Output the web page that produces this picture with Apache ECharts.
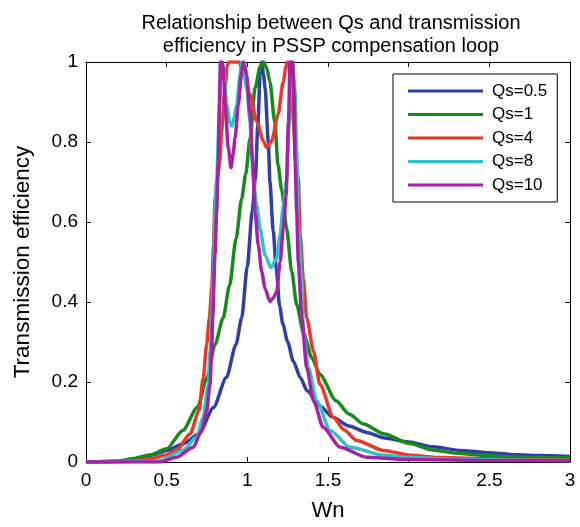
<!DOCTYPE html>
<html><head><meta charset="utf-8">
<script src="https://cdn.jsdelivr.net/npm/echarts@6/dist/echarts.min.js"></script>
<style>html,body{margin:0;padding:0;background:#fff}#c{width:580px;height:527px}</style>
</head><body><div id="c"></div>
<script>
var titleText = 'Relationship between Qs and transmission\nefficiency in PSSP compensation loop';
var seriesNames = ['Qs=0.5','Qs=1','Qs=4','Qs=8','Qs=10'];
var xTicks = [0,0.5,1,1.5,2,2.5,3];
var yTicks = [0,0.2,0.4,0.6,0.8,1];

var qs05 = [[0,0],[0.2,0.002],[0.3,0.008],[0.4,0.016],[0.5,0.029],[0.6,0.045],[0.7,0.07],[0.79,0.136],[0.87,0.211],[0.93,0.294],[0.965,0.36],[1.0,0.49],[1.03,0.625],[1.05,0.71],[1.065,0.84],[1.08,0.98],[1.09,1.0],[1.1,0.97],[1.11,0.935],[1.13,0.8],[1.14,0.7],[1.16,0.58],[1.18,0.48],[1.2,0.39],[1.22,0.345],[1.25,0.3],[1.285,0.252],[1.33,0.21],[1.37,0.178],[1.45,0.14],[1.53,0.112],[1.63,0.09],[1.74,0.074],[1.85,0.06],[2.0,0.05],[2.15,0.038],[2.32,0.029],[2.5,0.023],[2.63,0.019],[2.8,0.016],[3.0,0.014]];
var qs1 = [[0,0],[0.2,0.002],[0.29,0.008],[0.4,0.018],[0.5,0.033],[0.6,0.079],[0.69,0.136],[0.75,0.211],[0.8,0.294],[0.85,0.36],[0.89,0.442],[0.93,0.558],[0.965,0.658],[0.99,0.72],[1.017,0.81],[1.048,0.935],[1.08,0.99],[1.1,1.0],[1.12,0.985],[1.14,0.95],[1.17,0.85],[1.19,0.744],[1.213,0.68],[1.244,0.583],[1.275,0.476],[1.306,0.393],[1.35,0.32],[1.4,0.26],[1.45,0.219],[1.55,0.153],[1.63,0.12],[1.72,0.095],[1.85,0.07],[2.0,0.047],[2.15,0.03],[2.3,0.022],[2.46,0.017],[2.6,0.013],[2.77,0.011],[3.0,0.01]];
var qs4 = [[0,0],[0.3,0.002],[0.4,0.008],[0.5,0.018],[0.56,0.029],[0.645,0.07],[0.7,0.128],[0.727,0.211],[0.748,0.294],[0.765,0.36],[0.78,0.44],[0.79,0.54],[0.8,0.658],[0.815,0.71],[0.83,0.753],[0.84,0.827],[0.862,0.935],[0.875,0.99],[0.885,1.0],[0.95,1.0],[0.975,0.968],[1.017,0.918],[1.058,0.852],[1.1,0.802],[1.12,0.786],[1.15,0.802],[1.19,0.868],[1.223,0.951],[1.24,0.99],[1.25,1.0],[1.265,0.98],[1.28,0.88],[1.3,0.76],[1.316,0.707],[1.327,0.567],[1.347,0.459],[1.368,0.36],[1.41,0.277],[1.45,0.194],[1.533,0.112],[1.6,0.08],[1.678,0.054],[1.843,0.029],[2.01,0.017],[2.2,0.011],[2.5,0.008],[2.7,0.006],[3.0,0.004]];
var qs8 = [[0,0],[0.4,0.002],[0.46,0.004],[0.6,0.029],[0.686,0.062],[0.727,0.112],[0.758,0.194],[0.769,0.277],[0.779,0.36],[0.789,0.459],[0.8,0.625],[0.81,0.707],[0.825,0.85],[0.835,0.96],[0.845,1.0],[0.855,0.97],[0.872,0.893],[0.89,0.85],[0.903,0.84],[0.918,0.86],[0.934,0.893],[0.955,0.968],[0.965,1.0],[0.975,0.99],[0.996,0.935],[1.017,0.852],[1.027,0.77],[1.037,0.707],[1.058,0.641],[1.079,0.583],[1.11,0.517],[1.145,0.486],[1.182,0.509],[1.203,0.567],[1.223,0.641],[1.244,0.707],[1.26,0.85],[1.27,0.97],[1.28,1.0],[1.295,0.93],[1.306,0.78],[1.316,0.583],[1.337,0.459],[1.347,0.33],[1.378,0.236],[1.43,0.153],[1.513,0.079],[1.637,0.037],[1.843,0.017],[2.01,0.011],[2.3,0.007],[2.6,0.005],[3.0,0.004]];
var qs10 = [[0,0],[0.46,0.0],[0.562,0.012],[0.665,0.037],[0.717,0.079],[0.748,0.128],[0.769,0.194],[0.779,0.277],[0.785,0.36],[0.8,0.52],[0.81,0.625],[0.82,0.75],[0.827,0.9],[0.833,1.0],[0.845,1.0],[0.855,0.95],[0.862,0.893],[0.882,0.786],[0.899,0.736],[0.912,0.77],[0.924,0.81],[0.944,0.893],[0.965,0.976],[0.975,1.0],[0.985,0.99],[0.996,0.968],[1.017,0.868],[1.033,0.75],[1.048,0.625],[1.068,0.542],[1.089,0.476],[1.11,0.434],[1.14,0.401],[1.16,0.41],[1.182,0.426],[1.203,0.5],[1.223,0.583],[1.24,0.666],[1.255,0.85],[1.265,1.0],[1.28,1.0],[1.29,0.92],[1.296,0.75],[1.306,0.625],[1.316,0.5],[1.337,0.36],[1.368,0.236],[1.41,0.153],[1.47,0.087],[1.575,0.037],[1.74,0.012],[2.01,0.006],[2.5,0.004],[3.0,0.003]];

var allData = [qs05, qs1, qs4, qs8, qs10];
var colors = ['#2f3fa6','#178a1c','#e8372b','#2fc3c3','#a820a6'];

var FONT = 'Liberation Sans, Arial, Helvetica, sans-serif';
var chart = echarts.init(document.getElementById('c'), null, {renderer:'canvas'});

function fmt(v){ return String(Math.round(v*10)/10); }

var axisCommonX = {
  type:'value', min:xTicks[0], max:xTicks[xTicks.length-1], interval:0.5,
  axisLine:{show:true, onZero:false, lineStyle:{color:'#000', width:1}},
  axisTick:{show:true, inside:true, length:5, lineStyle:{color:'#000'}},
  splitLine:{show:false}
};
var axisCommonY = {
  type:'value', min:yTicks[0], max:yTicks[yTicks.length-1], interval:0.2,
  axisLine:{show:true, onZero:false, lineStyle:{color:'#000', width:1}},
  axisTick:{show:true, inside:true, length:5, lineStyle:{color:'#000'}},
  splitLine:{show:false}
};

var option = {
  backgroundColor:'#fff',
  animation:false,
  title:{text:titleText, left:326, top:7, textAlign:'center',
    textStyle:{fontFamily:FONT, fontSize:20, fontWeight:'normal', color:'#000', lineHeight:23}},
  grid:{left:86, right:10, top:62, bottom:62, containLabel:false},
  legend:{
    data:seriesNames, orient:'vertical', left:393, top:74,
    backgroundColor:'#fff', borderColor:'#000', borderWidth:1,
    padding:[8,10,8,15], itemGap:5.5, itemWidth:75, itemHeight:3,
    icon:'rect',
    textStyle:{fontFamily:FONT, fontSize:17, color:'#000', lineHeight:18, padding:[0,0,0,4]}
  },
  xAxis:[
    Object.assign({}, axisCommonX, {position:'bottom', name:'Wn', nameLocation:'middle', nameGap:38,
      nameTextStyle:{fontFamily:FONT, fontSize:22, color:'#000'},
      axisLabel:{show:true, margin:9, fontFamily:FONT, fontSize:19, color:'#000', formatter:fmt}}),
    Object.assign({}, axisCommonX, {position:'top', axisLabel:{show:false}})
  ],
  yAxis:[
    Object.assign({}, axisCommonY, {position:'left', name:'Transmission efficiency', nameLocation:'middle', nameGap:52,
      nameTextStyle:{fontFamily:FONT, fontSize:22.5, color:'#000'},
      axisLabel:{show:true, margin:8, fontFamily:FONT, fontSize:19, color:'#000', formatter:fmt}}),
    Object.assign({}, axisCommonY, {position:'right', axisLabel:{show:false}})
  ],
  series: allData.map(function(d,i){
    return {name:seriesNames[i], type:'line', data:d, xAxisIndex:0, yAxisIndex:0,
      showSymbol:false, symbol:'none', smooth:0.25, smoothMonotone:'x', clip:true,
      lineStyle:{color:colors[i], width:3.5}, itemStyle:{color:colors[i]}};
  })
};
chart.setOption(option);
</script></body></html>
